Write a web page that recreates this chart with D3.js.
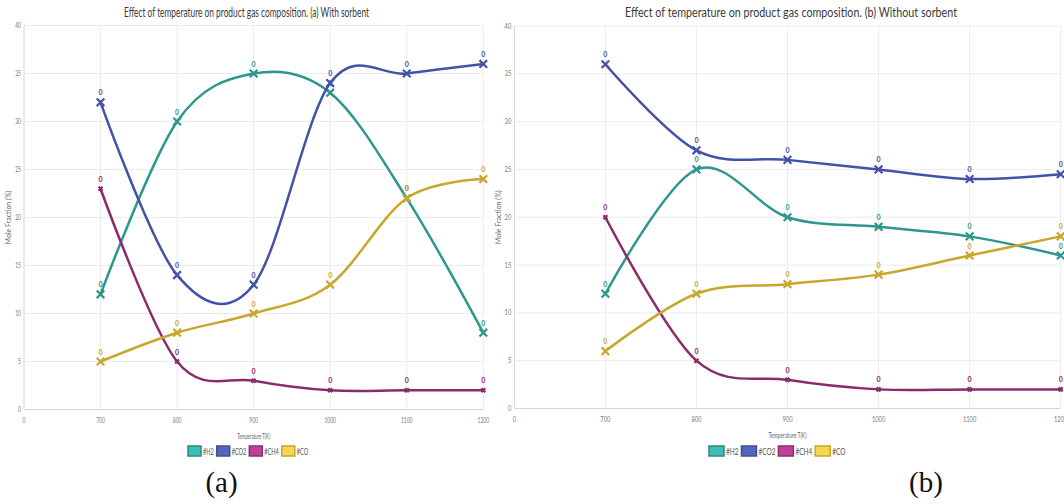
<!DOCTYPE html>
<html>
<head>
<meta charset="utf-8">
<script src="https://cdn.jsdelivr.net/npm/d3@7"></script>
<style>
  html, body { margin: 0; padding: 0; background: #fff; }
  svg { display: block; }
  text { font-family: Lato, "Open Sans", sans-serif; }
</style>
</head>
<body>
<svg id="chart" width="1064" height="504"></svg>
<script>
// categories on the x axis (first one is an empty "0" slot)
const categories = ["0", "700", "800", "900", "1000", "1100", "1200"];
const temps = ["700", "800", "900", "1000", "1100", "1200"];
const yTicks = [0, 5, 10, 15, 20, 25, 30, 35, 40];
const seriesNames = ["#H2", "#CO2", "#CH4", "#CO"];

// (a) with sorbent
const h2A = [12, 30, 35, 33, 22, 8];
const co2A = [32, 14, 13, 34, 35, 36];
const ch4A = [23, 5, 3, 2, 2, 2];
const coA = [5, 8, 10, 13, 22, 24];

// (b) without sorbent
const h2B = [12, 25, 20, 19, 18, 16];
const co2B = [36, 27, 26, 25, 24, 24.5];
const ch4B = [20, 5, 3, 2, 2, 2];
const coB = [6, 12, 13, 14, 16, 18];

const lineColors = ["#2b978d", "#4452a6", "#8a2b6b", "#c9a62c"];
const boxFill = ["#3cbdb6", "#5465bb", "#c0409b", "#f6d64c"];
const boxStroke = ["#2a8a80", "#3f4e9f", "#8e2d70", "#c9a62c"];

const svg = d3.select("#chart");

// narrow the text like the squashed original
function squeeze(sel, f) {
	let total = 0;
	sel.each(function () {
		const w = this.getComputedTextLength() * f;
		d3.select(this).attr("textLength", w).attr("lengthAdjust", "spacingAndGlyphs");
		total += w;
	});
	return total;
}

function drawPanel(opt) {
	const g = svg.append("g");
	const x = d3.scalePoint().domain(categories).range([opt.left, opt.right]);
	const y = d3.scaleLinear().domain([0, 40]).range([opt.bottom, opt.top]);

	// grid
	g.selectAll(".hgrid").data(yTicks).enter().append("line")
		.attr("x1", opt.left).attr("x2", opt.right)
		.attr("y1", d => y(d)).attr("y2", d => y(d))
		.attr("stroke", d => d === 0 ? "#d4d4d4" : "#ececec").attr("stroke-width", 1);
	g.selectAll(".vgrid").data(categories).enter().append("line")
		.attr("x1", d => x(d)).attr("x2", d => x(d))
		.attr("y1", opt.top).attr("y2", opt.bottom)
		.attr("stroke", d => d === "0" ? "#d4d4d4" : "#ececec").attr("stroke-width", 1);

	// y tick labels
	const yl = g.selectAll(".yl").data(yTicks).enter().append("text")
		.attr("x", opt.left - 3).attr("y", d => y(d) + 2.5)
		.attr("text-anchor", "end").attr("font-size", 8).attr("fill", "#777")
		.text(d => d);
	squeeze(yl, opt.sq);

	// x tick labels
	const xl = g.selectAll(".xl").data(categories).enter().append("text")
		.attr("x", d => x(d)).attr("y", opt.bottom + 13)
		.attr("text-anchor", "middle").attr("font-size", 8).attr("fill", "#777")
		.text(d => d);
	squeeze(xl, opt.sq);

	// axis titles
	const xt = g.append("text")
		.attr("x", (opt.left + opt.right) / 2).attr("y", opt.bottom + 29)
		.attr("text-anchor", "middle").attr("font-size", 7).attr("fill", "#666")
		.text("Temperature T(K)");
	squeeze(xt, opt.sq);
	g.append("text")
		.attr("transform", `translate(${opt.left - 13},${(opt.top + opt.bottom) / 2}) rotate(-90)`)
		.attr("text-anchor", "middle").attr("font-size", 7).attr("fill", "#666")
		.text("Mole Fraction (%)");

	// title
	g.append("text")
		.attr("x", opt.titleX).attr("y", 17)
		.attr("text-anchor", "middle").attr("font-size", 12.5).attr("fill", "#3a3a3a")
		.attr("textLength", opt.titleW).attr("lengthAdjust", "spacingAndGlyphs")
		.text(opt.title);

	const line = d3.line()
		.x((d, i) => x(temps[i]))
		.y(d => y(d))
		.curve(d3.curveCatmullRom.alpha(0));

	opt.series.forEach((vals, si) => {
		const col = lineColors[si];
		g.append("path").datum(vals)
			.attr("d", line).attr("fill", "none")
			.attr("stroke", col).attr("stroke-width", 2.5);

		const s = si === 2 ? 2 : 3.8;
		g.selectAll(null).data(vals).enter().append("path")
			.attr("transform", (d, i) => `translate(${x(temps[i])},${y(d)})`)
			.attr("d", `M${-s},${-s}L${s},${s}M${-s},${s}L${s},${-s}`)
			.attr("stroke", col).attr("stroke-width", 2.2).attr("fill", "none");

		g.selectAll(null).data(vals).enter().append("text")
			.attr("x", (d, i) => x(temps[i])).attr("y", d => y(d) - 7)
			.attr("text-anchor", "middle").attr("font-size", 7).attr("font-weight", "bold")
			.attr("fill", col)
			.text("0");
	});

	// legend
	let lx = opt.legendX;
	seriesNames.forEach((name, i) => {
		g.append("rect")
			.attr("x", lx).attr("y", 446).attr("width", opt.boxW).attr("height", 10)
			.attr("fill", boxFill[i]).attr("stroke", boxStroke[i]).attr("stroke-width", 1.5);
		const t = g.append("text")
			.attr("x", lx + opt.boxW + 2).attr("y", 454.5)
			.attr("font-size", 9).attr("fill", "#555")
			.text(name);
		const w = squeeze(t, opt.sq);
		lx += opt.boxW + 2 + w + 3;
	});

	// panel caption
	svg.append("text")
		.attr("x", opt.capX).attr("y", 492)
		.attr("text-anchor", "middle")
		.style("font-family", "'Liberation Serif', 'Times New Roman', serif")
		.attr("font-size", 29).attr("fill", "#111")
		.text(opt.caption);
}

drawPanel({
	left: 24, right: 483.3, top: 25.5, bottom: 409.5, sq: 0.62,
	title: "Effect of temperature on product gas composition. (a) With sorbent",
	titleX: 246.5, titleW: 245,
	series: [h2A, co2A, ch4A, coA],
	legendX: 188, boxW: 13,
	caption: "(a)", capX: 221.5
});

drawPanel({
	left: 514.3, right: 1060.7, top: 26, bottom: 408.5, sq: 0.72,
	title: "Effect of temperature on product gas composition. (b) Without sorbent",
	titleX: 791, titleW: 332,
	series: [h2B, co2B, ch4B, coB],
	legendX: 709, boxW: 15,
	caption: "(b)", capX: 926
});
</script>
</body>
</html>
